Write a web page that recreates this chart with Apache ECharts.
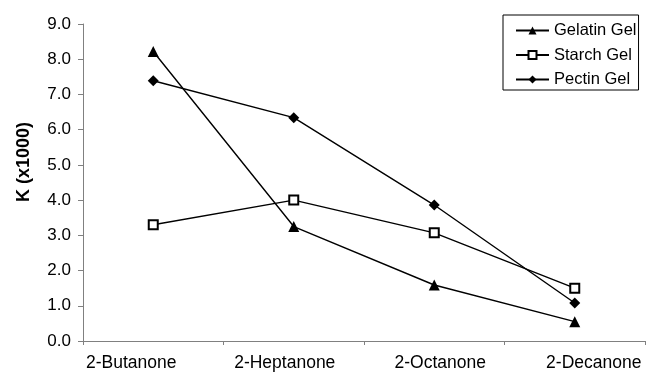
<!DOCTYPE html>
<html>
<head>
<meta charset="utf-8">
<script src="https://cdn.jsdelivr.net/npm/echarts@6/dist/echarts.min.js"></script>
<style>
  html, body { margin: 0; padding: 0; background: #fff; }
  #chart { width: 648px; height: 372px; }
</style>
</head>
<body>
<div id="chart"></div>
<script>
// Partition coefficients of ketones in three gel systems
const compounds = ['2-Butanone', '2-Heptanone', '2-Octanone', '2-Decanone'];
const gelatinGel = [8.22, 3.25, 1.59, 0.55];
const starchGel = [3.30, 4.00, 3.07, 1.50];
const pectinGel = [7.39, 6.34, 3.86, 1.08];
const yTicks = [0, 1, 2, 3, 4, 5, 6, 7, 8, 9];

// horizontal nudge (px) of each category label from its slot centre
const labelShift = [-22, -9, 6, 19];

const FONT = 'Liberation Sans, Arial, sans-serif';
const chart = echarts.init(document.getElementById('chart'));

function lineSeries(name, data, symbol, size) {
  const hollow = symbol === 'emptyRect';
  return {
    name: name,
    type: 'line',
    data: data,
    symbol: symbol,
    symbolSize: size,
    showAllSymbol: true,
    lineStyle: { color: '#000', width: 1.4 },
    itemStyle: { color: '#000', borderColor: '#000', borderWidth: hollow ? 1.4 : 0 },
    emphasis: { disabled: true },
    animation: false
  };
}

const labelRich = {};
labelShift.forEach((s, i) => {
  labelRich['c' + i] = {
    fontFamily: FONT, fontSize: 17.5, color: '#000',
    padding: s < 0 ? [0, -2 * s, 0, 0] : [0, 0, 0, 2 * s]
  };
});

chart.setOption({
  backgroundColor: '#fff',
  animation: false,
  grid: { left: 83, right: 3, top: 24, bottom: 31 },
  xAxis: {
    type: 'category',
    data: compounds,
    boundaryGap: true,
    axisLine: { lineStyle: { color: '#808080', width: 1 } },
    axisTick: { show: true, length: 4, lineStyle: { color: '#808080' } },
    axisLabel: {
      color: '#000', fontFamily: FONT, fontSize: 17.5, margin: 13,
      interval: 0,
      formatter: (v, i) => '{c' + i + '|' + v + '}',
      rich: labelRich
    }
  },
  yAxis: {
    type: 'value',
    min: yTicks[0],
    max: yTicks[yTicks.length - 1],
    interval: 1,
    splitLine: { show: false },
    axisLine: { show: true, lineStyle: { color: '#808080', width: 1 } },
    axisTick: { show: true, length: 5, lineStyle: { color: '#808080' } },
    axisLabel: {
      color: '#000', fontFamily: FONT, fontSize: 17, margin: 12,
      formatter: v => v.toFixed(1)
    }
  },
  legend: {
    orient: 'vertical',
    left: 503,
    top: 15,
    padding: [7, 2, 2, 12],
    itemGap: 7.5,
    itemWidth: 33,
    itemHeight: 10,
    borderColor: '#000',
    borderWidth: 1,
    backgroundColor: '#fff',
    textStyle: { color: '#000', fontFamily: FONT, fontSize: 16.5, lineHeight: 17 },
    data: [
      { name: 'Gelatin Gel' },
      { name: 'Starch Gel' },
      { name: 'Pectin Gel' }
    ]
  },
  graphic: [{
    type: 'text',
    x: 24,
    y: 162,
    rotation: Math.PI / 2,
    style: {
      text: 'K (x1000)',
      font: 'bold 18px ' + FONT,
      fill: '#000',
      textAlign: 'center',
      textVerticalAlign: 'middle'
    }
  }],
  series: [
    lineSeries('Gelatin Gel', gelatinGel, 'triangle', 11),
    lineSeries('Starch Gel', starchGel, 'emptyRect', 9),
    lineSeries('Pectin Gel', pectinGel, 'diamond', 11)
  ]
});
</script>
</body>
</html>
